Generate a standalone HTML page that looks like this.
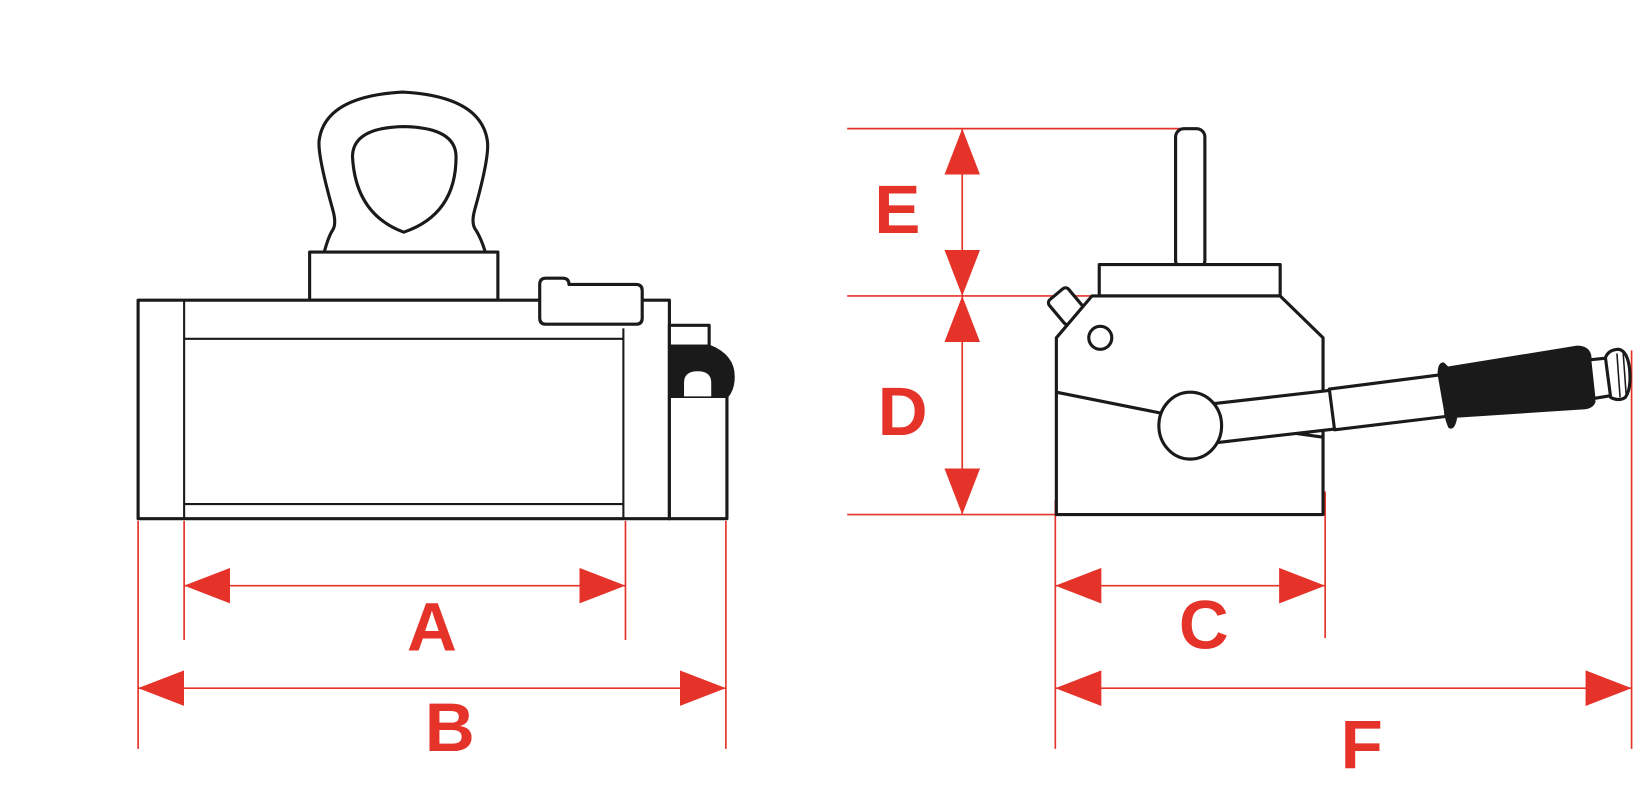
<!DOCTYPE html>
<html><head><meta charset="utf-8"><style>
html,body{margin:0;padding:0;background:#fff;}
svg{display:block;}
text{font-family:"Liberation Sans",sans-serif;font-weight:bold;fill:#e5332a;text-anchor:middle;}
</style></head><body>
<svg width="1640" height="787" viewBox="0 0 1568 752.5" xmlns="http://www.w3.org/2000/svg">
<defs>
<marker id="a" viewBox="0 0 44 34" refX="44" refY="17" markerWidth="44" markerHeight="34" markerUnits="userSpaceOnUse" orient="auto-start-reverse">
<path d="M0,0 L44,17 L0,34 Z" fill="#e5332a"/>
</marker>
</defs>
<g stroke="#e5332a" stroke-width="1.6" fill="none">
<line x1="132" y1="498" x2="132" y2="716"/>
<line x1="176" y1="498" x2="176" y2="612"/>
<line x1="598" y1="498" x2="598" y2="612"/>
<line x1="694" y1="498" x2="694" y2="716"/>
<line x1="176" y1="560" x2="598" y2="560" marker-start="url(#a)" marker-end="url(#a)"/>
<line x1="132" y1="658" x2="694" y2="658" marker-start="url(#a)" marker-end="url(#a)"/>
<line x1="810" y1="123" x2="1140" y2="123"/>
<line x1="810" y1="283" x2="1048" y2="283"/>
<line x1="810" y1="492" x2="1010" y2="492"/>
<line x1="920" y1="123" x2="920" y2="283" marker-start="url(#a)" marker-end="url(#a)"/>
<line x1="920" y1="283" x2="920" y2="492" marker-start="url(#a)" marker-end="url(#a)"/>
<line x1="1009" y1="478" x2="1009" y2="716"/>
<line x1="1267" y1="470" x2="1267" y2="610"/>
<line x1="1560" y1="335" x2="1560" y2="716"/>
<line x1="1009" y1="560" x2="1267" y2="560" marker-start="url(#a)" marker-end="url(#a)"/>
<line x1="1009" y1="658" x2="1560" y2="658" marker-start="url(#a)" marker-end="url(#a)"/>
</g>
<text x="413" y="622" font-size="66">A</text>
<text x="430" y="718" font-size="66">B</text>
<text x="1151" y="620" font-size="66">C</text>
<text x="1302" y="735" font-size="66">F</text>
<text x="858" y="223" font-size="66">E</text>
<text x="863" y="416" font-size="66">D</text>

<g stroke="#1a1a1a" stroke-width="3" fill="#fff" stroke-linejoin="round">
<path d="M310,241 Q314,226 318,220 Q322,214 318,200 Q304,150 305,135 Q310,92 385,88 Q460,92 466,135 Q468,150 454,200 Q450,214 455,220 Q460,228 464,241" />
<path d="M386,121 Q436,122 436,150 Q436,205 386,222 Q340,205 337,150 Q337,122 386,121 Z"/>
<rect x="296" y="241" width="180" height="46"/>
<rect x="132" y="287" width="508" height="209"/>
<line x1="176" y1="287" x2="176" y2="496" stroke-width="2"/>
<line x1="176" y1="324" x2="596" y2="324" stroke-width="2"/>
<line x1="176" y1="482" x2="596" y2="482" stroke-width="2"/>
<line x1="596" y1="314" x2="596" y2="496" stroke-width="2"/>
<path d="M516,272 Q516,266 522,266 L538,266 Q544,266 544,272 L608,272 Q614,272 614,278 L614,304 Q614,310 608,310 L522,310 Q516,310 516,304 Z"/>
<rect x="640" y="379" width="55" height="117"/>
<rect x="640" y="311" width="38" height="20"/>
<path d="M640,331 L678,331 Q701,340 701,360 Q701,372 695,379 L640,379 Z" fill="#1a1a1a"/>
<path d="M654,379 L654,366 Q654,355 667,355 Q680,355 680,366 L680,379 Z" fill="#fff" stroke="none"/>

<rect x="1124" y="123" width="28" height="134" rx="8"/>
<rect x="1051" y="253" width="173" height="30"/>
<g transform="rotate(-40 1019 292)"><rect x="1007" y="278" width="24" height="30" rx="4"/></g>
<path d="M1044,283 L1224,283 L1265,323 L1265,492 L1010,492 L1010,323 Z"/>
<ellipse cx="1052" cy="323" rx="11" ry="11"/>
<line x1="1010" y1="375" x2="1110" y2="395"/>
<line x1="1236" y1="414" x2="1265" y2="418"/>
<path d="M1160,386 L1274,373 L1278,410 L1165,423 Z"/>
<path d="M1271,372 L1380,358 L1384,398 L1276,411 Z"/>
<path d="M1376,358 Q1376,348 1380,348 L1384,352 L1508,332 Q1518,332 1520,340 L1524,384 Q1522,390 1512,390 L1392,398 Q1390,410 1386,408 Q1382,398 1382,392 Z" fill="#1a1a1a"/>
<path d="M1520,344 L1540,342 L1542,378 L1524,381 Z"/>
<path d="M1535,342 Q1538,334 1548,334 Q1556,336 1558,352 Q1560,372 1554,380 Q1548,384 1540,380 Z"/>
<line x1="1546" y1="338" x2="1549" y2="380" stroke-width="1.5"/>
<line x1="1552" y1="338" x2="1555" y2="380" stroke-width="1.5"/>
<ellipse cx="1138" cy="407" rx="30" ry="32"/>
</g>
</svg>
</body></html>
